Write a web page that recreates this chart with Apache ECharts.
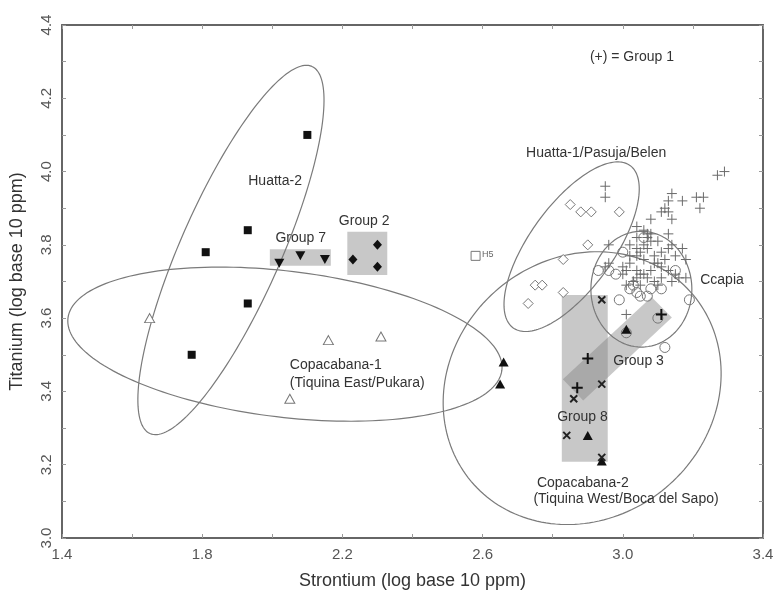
<!DOCTYPE html>
<html><head><meta charset="utf-8">
<script src="https://cdn.jsdelivr.net/npm/echarts@6/dist/echarts.min.js"></script>
<style>html,body{margin:0;padding:0;background:#fff}#c{width:778px;height:598px}</style>
</head><body><div id="c"></div>
<script>
// ---- tick labels ----
const xTickLabels = ['1.4','1.8','2.2','2.6','3.0','3.4'];
const yTickLabels = ['3.0','3.2','3.4','3.6','3.8','4.0','4.2','4.4'];

// ---- point data [Sr, Ti] ----
const huatta2 = [[2.10,4.10],[1.93,3.84],[1.81,3.78],[1.93,3.64],[1.77,3.50]];
const copacabana1 = [[1.65,3.60],[2.16,3.54],[2.31,3.55],[2.05,3.38]];
const group7 = [[2.02,3.75],[2.08,3.77],[2.15,3.76]];
const group2 = [[2.30,3.80],[2.23,3.76],[2.30,3.74]];
const h5 = [[2.58,3.77]];
const huatta1 = [[2.85,3.91],[2.88,3.89],[2.91,3.89],[2.99,3.89],[2.90,3.80],[2.83,3.76],[2.75,3.69],[2.77,3.69],[2.83,3.67],[2.73,3.64]];
const copacabana2Tri = [[2.66,3.48],[2.65,3.42],[2.90,3.28],[3.01,3.57],[2.94,3.21]];
const group8X = [[2.94,3.65],[2.94,3.42],[2.86,3.38],[2.84,3.28],[2.94,3.22]];
const group3Plus = [[2.90,3.49],[2.87,3.41],[3.11,3.61]];
const ccapia = [[3.00,3.78],[3.06,3.82],[2.93,3.73],[2.98,3.72],[3.02,3.68],[3.04,3.67],[3.07,3.66],[3.11,3.68],[3.15,3.73],[3.19,3.65],[2.99,3.65],[3.10,3.60],[3.12,3.52],[3.05,3.66],[3.03,3.69],[3.08,3.68],[2.96,3.73],[3.01,3.56]];
const group1 = [[2.95,3.96],[2.95,3.93],[3.27,3.99],[3.29,4.00],
 [3.14,3.94],[3.21,3.93],[3.23,3.93],[3.22,3.90],[3.13,3.92],[3.17,3.92],[3.12,3.90],[3.13,3.89],[3.11,3.89],[3.14,3.87],[3.08,3.87],
 [3.04,3.85],[3.06,3.84],[3.07,3.82],[3.08,3.83],[3.13,3.83],[3.04,3.82],[3.10,3.81],[3.14,3.80],[3.17,3.79],[3.02,3.80],[3.04,3.79],[3.04,3.77],[3.07,3.79],[3.11,3.78],[3.13,3.79],[3.15,3.77],[3.18,3.76],[3.02,3.75],[3.06,3.76],[3.09,3.75],[3.11,3.74],[3.10,3.75],[2.96,3.75],[3.00,3.74],[3.01,3.73],[3.04,3.73],[3.05,3.72],[3.04,3.71],[3.00,3.72],[3.03,3.70],[3.07,3.71],[3.13,3.73],[3.15,3.72],[3.16,3.71],[3.18,3.71],[3.14,3.70],[3.05,3.69],[3.09,3.70],[3.11,3.71],[3.01,3.69],[3.03,3.70],
 [2.96,3.80],[2.95,3.74],[3.01,3.61],[3.07,3.83],[3.08,3.81],[3.05,3.78],[3.06,3.72],[3.08,3.73],[3.09,3.77],[3.12,3.76],[3.10,3.69],[3.02,3.77],[3.06,3.80]];

// ---- group boxes: [x1, y1, x2, y2] ----
const group7Box = [1.993, 3.743, 2.167, 3.788];
const group2Box = [2.214, 3.718, 2.328, 3.836];
const group8Box = [2.826, 3.208, 2.957, 3.663];
// Group 3 band corners
const group3Band = [[2.829,3.433],[2.887,3.375],[3.140,3.602],[3.082,3.658]];

// ---- ellipses: centre, first half-axis vector, second half-axis vector (data units) ----
const ellHuatta2 = [1.882, 3.786, 0.231, 0.501, 0.131, -0.055];
const ellCopa1 = [2.036, 3.529, 0.619, -0.071, 0.0245, 0.198];
const ellHuatta1 = [2.854, 3.795, 0.1666, 0.2216, 0.0973, -0.0668];
const ellCopa2 = [2.884, 3.409, 0.3168, 0.2543, 0.2385, -0.2718];
const ellCcapia = [3.053, 3.679, 0.144, 0, 0, 0.158];
const ellipses = [ellHuatta2, ellCopa1, ellHuatta1, ellCopa2, ellCcapia];

// ---- text labels [x, y, text, align] ----
const labels = [
 [2.008, 3.974, 'Huatta-2', 'center'],
 [2.081, 3.818, 'Group 7', 'center'],
 [2.262, 3.866, 'Group 2', 'center'],
 [2.050, 3.472, 'Copacabana-1', 'left'],
 [2.050, 3.423, '(Tiquina East/Pukara)', 'left'],
 [2.924, 4.050, 'Huatta-1/Pasuja/Belen', 'center'],
 [3.283, 3.704, 'Ccapia', 'center'],
 [3.045, 3.483, 'Group 3', 'center'],
 [2.885, 3.331, 'Group 8', 'center'],
 [2.755, 3.150, 'Copacabana-2', 'left'],
 [2.745, 3.106, '(Tiquina West/Boca del Sapo)', 'left'],
 [3.026, 4.312, '(+) = Group 1', 'center']
];
const smallLabels = [[2.598, 3.775, 'H5', 'left']];

const plusPath = 'path://M5,0L5,10M0,5L10,5';
const xPath = 'path://M0,0L10,10M10,0L0,10';
const GRAY = '#777';

function boxSeries(boxes) {
  return {
    type: 'custom', z: 1, silent: true,
    data: boxes.map(b => [b[0], b[1]]),
    renderItem: (params, api) => {
      const b = boxes[params.dataIndex];
      const pts = [[b[0],b[1]],[b[2],b[1]],[b[2],b[3]],[b[0],b[3]]].map(p => api.coord(p));
      return {type:'polygon', shape:{points:pts}, style:{fill:'rgba(128,128,128,0.43)'}};
    }
  };
}

const option = {
  animation: false,
  backgroundColor: '#fff',
  grid: {left: 62, right: 15, top: 25, bottom: 60, containLabel: false},
  xAxis: [{
    type:'value', min:1.4, max:3.4, interval:0.2, position:'bottom',
    name:'Strontium (log base 10 ppm)', nameLocation:'middle', nameGap:34,
    nameTextStyle:{fontFamily:'Liberation Sans', fontSize:18, color:'#333'},
    axisLine:{show:true, lineStyle:{color:'#666', width:2}},
    axisTick:{show:true, inside:true, length:4, lineStyle:{color:'#999'}},
    axisLabel:{margin:9, fontFamily:'Liberation Sans', fontSize:15, color:'#555',
      formatter: v => { const s = v.toFixed(1); return xTickLabels.includes(s) ? s : ''; }},
    splitLine:{show:false}
  },{
    type:'value', min:1.4, max:3.4, interval:0.2, position:'top',
    axisLine:{show:true, lineStyle:{color:'#666', width:2}},
    axisTick:{show:true, inside:true, length:4, lineStyle:{color:'#999'}},
    axisLabel:{show:false}, splitLine:{show:false}
  }],
  yAxis: [{
    type:'value', min:3.0, max:4.4, interval:0.1, position:'left',
    name:'Titanium (log base 10 ppm)', nameLocation:'middle', nameGap:36,
    nameTextStyle:{fontFamily:'Liberation Sans', fontSize:18, color:'#333'},
    axisLine:{show:true, lineStyle:{color:'#666', width:2}},
    axisTick:{show:true, inside:true, length:4, lineStyle:{color:'#999'}},
    axisLabel:{rotate:90, margin:8, fontFamily:'Liberation Sans', fontSize:15, color:'#555',
      formatter: v => { const s = v.toFixed(1); return yTickLabels.includes(s) ? s : ''; }},
    splitLine:{show:false}
  },{
    type:'value', min:3.0, max:4.4, interval:0.1, position:'right',
    axisLine:{show:true, lineStyle:{color:'#666', width:2}},
    axisTick:{show:true, inside:true, length:4, lineStyle:{color:'#999'}},
    axisLabel:{show:false}, splitLine:{show:false}
  }],
  series: [
    boxSeries([group7Box, group2Box, group8Box]),
    {
      type:'custom', z:1, silent:true, data:[group3Band[0]],
      renderItem: (params, api) => ({type:'polygon', shape:{points: group3Band.map(p => api.coord(p))},
        style:{fill:'rgba(128,128,128,0.43)'}})
    },
    {
      type:'custom', z:2, silent:true,
      data: ellipses.map(e => [e[0], e[1]]),
      renderItem: (params, api) => {
        const e = ellipses[params.dataIndex];
        const pts = [];
        for (let i = 0; i <= 180; i++) {
          const t = 2*Math.PI*i/180;
          pts.push(api.coord([e[0] + e[2]*Math.cos(t) + e[4]*Math.sin(t), e[1] + e[3]*Math.cos(t) + e[5]*Math.sin(t)]));
        }
        return {type:'polyline', shape:{points:pts}, style:{fill:null, stroke:'#7a7a7a', lineWidth:1.2}};
      }
    },
    {type:'scatter', z:3, data:group1, symbol:plusPath, symbolSize:10,
      itemStyle:{color:'none', borderColor:'#6a6a6a', borderWidth:1, opacity:1}},
    {type:'scatter', z:3, data:ccapia, symbol:'circle', symbolSize:10,
      itemStyle:{color:'rgba(255,255,255,0)', borderColor:GRAY, borderWidth:1, opacity:1}},
    {type:'scatter', z:3, data:huatta1, symbol:'diamond', symbolSize:10,
      itemStyle:{color:'#fff', borderColor:GRAY, borderWidth:1, opacity:1}},
    {type:'scatter', z:3, data:copacabana1, symbol:'triangle', symbolSize:[10,9],
      itemStyle:{color:'#fff', borderColor:GRAY, borderWidth:1, opacity:1}},
    {type:'scatter', z:3, data:h5, symbol:'rect', symbolSize:9,
      itemStyle:{color:'#fff', borderColor:GRAY, borderWidth:1, opacity:1}},
    {type:'scatter', z:4, data:huatta2, symbol:'rect', symbolSize:8,
      itemStyle:{color:'#111', opacity:1}},
    {type:'scatter', z:4, data:group7, symbol:'triangle', symbolRotate:180, symbolSize:[10,9],
      itemStyle:{color:'#111', opacity:1}},
    {type:'scatter', z:4, data:group2, symbol:'diamond', symbolSize:[9,10],
      itemStyle:{color:'#111', opacity:1}},
    {type:'scatter', z:4, data:copacabana2Tri, symbol:'triangle', symbolSize:[10,9],
      itemStyle:{color:'#111', opacity:1}},
    {type:'scatter', z:4, data:group8X, symbol:xPath, symbolSize:7,
      itemStyle:{color:'none', borderColor:'#222', borderWidth:2, opacity:1}},
    {type:'scatter', z:4, data:group3Plus, symbol:plusPath, symbolSize:11,
      itemStyle:{color:'none', borderColor:'#111', borderWidth:2, opacity:1}},
    {
      type:'custom', z:5, silent:true, data: labels.map(l => [l[0], l[1]]),
      renderItem: (params, api) => {
        const l = labels[params.dataIndex];
        const p = api.coord([l[0], l[1]]);
        return {type:'text', x:p[0], y:p[1], style:{text:l[2], textAlign:l[3], textVerticalAlign:'middle',
          fontFamily:'Liberation Sans', fontSize:14, fill:'#333'}};
      }
    },
    {
      type:'custom', z:5, silent:true, data: smallLabels.map(l => [l[0], l[1]]),
      renderItem: (params, api) => {
        const l = smallLabels[params.dataIndex];
        const p = api.coord([l[0], l[1]]);
        return {type:'text', x:p[0], y:p[1], style:{text:l[2], textAlign:l[3], textVerticalAlign:'middle',
          fontFamily:'Liberation Sans', fontSize:9, fill:'#666'}};
      }
    }
  ]
};
const chart = echarts.init(document.getElementById('c'));
chart.setOption(option);
</script>
</body></html>
